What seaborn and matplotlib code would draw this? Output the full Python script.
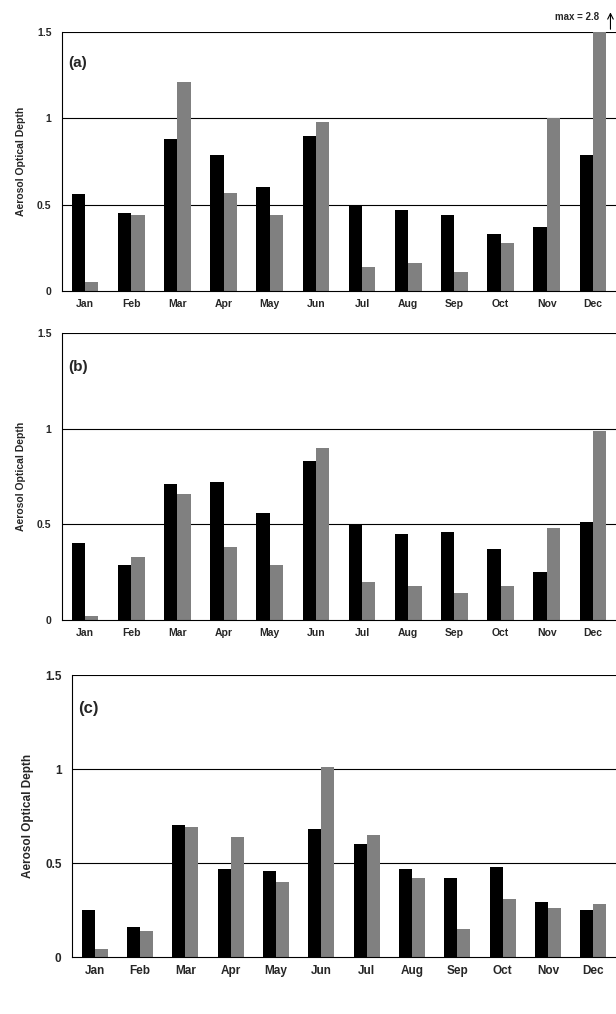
import numpy as np
import pandas as pd
import matplotlib.pyplot as plt
import seaborn as sns

months = ['Jan', 'Feb', 'Mar', 'Apr', 'May', 'Jun', 'Jul', 'Aug', 'Sep', 'Oct', 'Nov', 'Dec']

# panel (a)
a_black = [0.56, 0.45, 0.88, 0.79, 0.60, 0.90, 0.49, 0.47, 0.44, 0.33, 0.37, 0.79]
a_gray = [0.05, 0.44, 1.21, 0.57, 0.44, 0.98, 0.14, 0.16, 0.11, 0.28, 1.00, 2.8]
# panel (b)
b_black = [0.40, 0.29, 0.71, 0.72, 0.56, 0.83, 0.50, 0.45, 0.46, 0.37, 0.25, 0.51]
b_gray = [0.02, 0.33, 0.66, 0.38, 0.29, 0.90, 0.20, 0.18, 0.14, 0.18, 0.48, 0.99]
# panel (c)
c_black = [0.25, 0.16, 0.70, 0.47, 0.46, 0.68, 0.60, 0.47, 0.42, 0.48, 0.29, 0.25]
c_gray = [0.04, 0.14, 0.69, 0.64, 0.40, 1.01, 0.65, 0.42, 0.15, 0.31, 0.26, 0.28]

sns.set_style('white')
plt.rcParams['font.family'] = ['Liberation Sans', 'DejaVu Sans']

fig = plt.figure(figsize=(6.16, 10.14), dpi=100)
W, H = 616, 1014

# (label, black, gray, left, top, bottom, fontsize)
panels = [('(a)', a_black, a_gray, 62, 32, 291, 7.5),
          ('(b)', b_black, b_gray, 62, 333, 620, 7.5),
          ('(c)', c_black, c_gray, 72, 675, 957, 8.5)]

for label, blk, gry, left, top, bottom, fs in panels:
    ax = fig.add_axes([left / W, 1 - bottom / H, (W - left) / W, (bottom - top) / H])
    df = pd.DataFrame({'month': months * 2,
                       'aod': blk + gry,
                       'series': ['s1'] * 12 + ['s2'] * 12})
    sns.barplot(data=df, x='month', y='aod', hue='series',
                palette=['black', '#808080'], width=0.58, ax=ax,
                legend=False, saturation=1, linewidth=0)
    ax.set_ylim(0, 1.5)
    ax.set_xlim(-0.5, 11.5)
    ax.set_yticks([0, 0.5, 1, 1.5])
    ax.set_yticklabels(['0', '0.5', '1', '1.5'], fontsize=fs, fontweight='bold')
    for y in [0.5, 1, 1.5]:
        ax.axhline(y, color='black', lw=0.8, zorder=0)
    ax.set_xticks(range(12))
    ax.set_xticklabels(months, fontsize=fs, fontweight='bold')
    ax.tick_params(axis='x', which='major', length=0, pad=6)
    ax.set_xticks(np.arange(-0.5, 12, 1), minor=True)
    ax.tick_params(axis='x', which='minor', length=4, direction='out', color='black')
    ax.tick_params(axis='y', length=4, direction='out', color='black')
    for s in ['top', 'right']:
        ax.spines[s].set_visible(False)
    for s in ['left', 'bottom']:
        ax.spines[s].set_color('black')
        ax.spines[s].set_linewidth(0.8)
    ax.set_xlabel('')
    ax.set_ylabel('Aerosol Optical Depth', fontsize=fs, fontweight='bold', labelpad=8)
    ax.text(0.012, 0.88, label, transform=ax.transAxes, fontsize=fs + 3.5,
            fontweight='bold', va='center')

    if label == '(a)':
        ax.text(10.65, 1.56, 'max = 2.8', fontsize=7, fontweight='bold',
                ha='center', va='bottom', clip_on=False)
        ax.annotate('', xy=(11.38, 1.63), xytext=(11.38, 1.5),
                    arrowprops=dict(arrowstyle='->', color='black', lw=0.8),
                    annotation_clip=False)

fig.savefig('out.png', dpi=100)
